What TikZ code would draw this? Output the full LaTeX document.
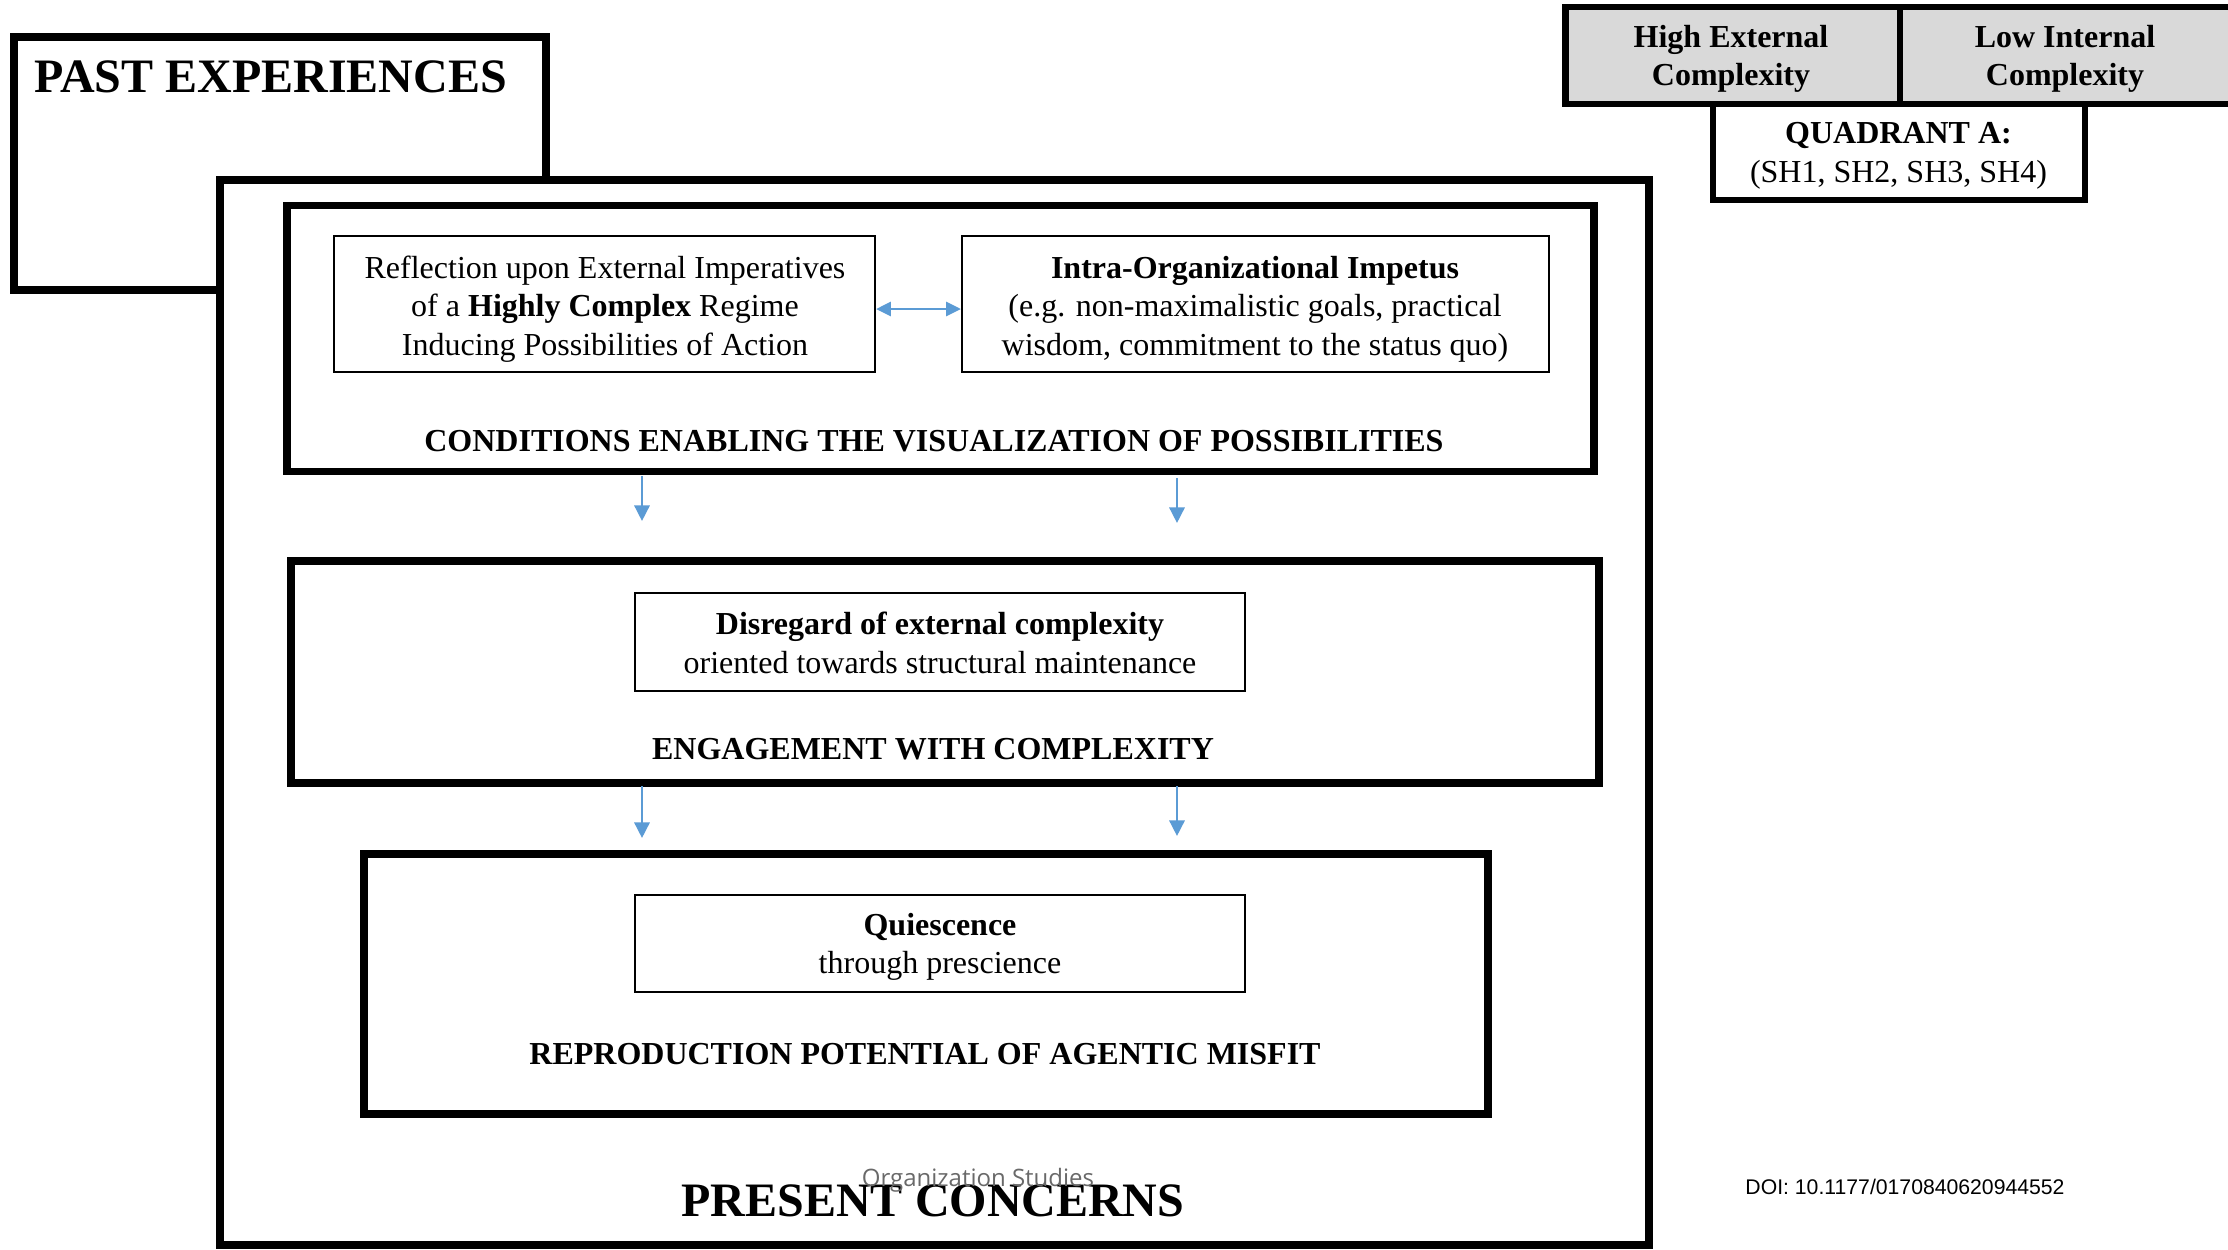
\documentclass[tikz,border=0pt]{standalone}
\usepackage{fontspec}
\setmainfont{Liberation Serif}
\newfontfamily\doifont{Liberation Sans}
\newfontfamily\journalfont{Open Sans}
\usetikzlibrary{arrows.meta}
\definecolor{linkblue}{RGB}{91,155,213}
\definecolor{panelgray}{RGB}{217,217,217}
\definecolor{marktext}{RGB}{105,105,105}

\begin{document}
\begin{tikzpicture}[x=0.5pt,y=-0.5pt,
  frame/.style={draw=black,line width=3.6pt,fill=white,inner sep=0pt},
  cell/.style={draw=black,line width=1.1pt,fill=white,inner sep=0pt},
  celltext/.style={inner sep=0pt,align=center,font=\fontsize{16}{19.2}\selectfont},
  header/.style={draw=black,line width=3.4pt,fill=panelgray,inner sep=0pt},
  caption/.style={inner sep=0pt,font=\fontsize{16}{19}\selectfont\bfseries},
  bigtitle/.style={inner sep=0pt,font=\fontsize{24}{28}\selectfont\bfseries},
  tip/.style={Triangle[length=7.8pt,width=7.6pt]},
  flow/.style={draw=linkblue,line width=1.3pt,-{Triangle[length=7.8pt,width=7.6pt]}},
  twoway/.style={draw=linkblue,line width=1.3pt,{Triangle[length=7.4pt,width=7pt]}-{Triangle[length=7.4pt,width=7pt]}}
]
\useasboundingbox (0,0) rectangle (2228,1249);
\fill[white] (0,0) rectangle (2228,1249);

% outer frames: past experiences behind, present concerns in front
\node[frame,minimum width=266pt,minimum height=126.5pt] (past) at (280,163.5) {};
\node[bigtitle,anchor=west] (pasttitle) at (34,77) {PAST EXPERIENCES};
\node[frame,minimum width=714.5pt,minimum height=532.5pt] (present) at (934.5,712.5) {};

% conditions enabling the visualization of possibilities
\node[frame,minimum width=653.5pt,minimum height=133pt] (cond) at (940.5,338.5) {};
\node[cell,minimum width=270.5pt,minimum height=68pt] (refl) at (604.5,304) {};
\node[celltext] (refltext) at (605,309)
  {Reflection upon External Imperatives\\of a \textbf{Highly Complex} Regime\\Inducing Possibilities of Action};
\node[cell,minimum width=293.5pt,minimum height=68pt] (intra) at (1255.5,304) {};
\node[celltext] (intratext) at (1255,309)
  {\textbf{Intra-Organizational Impetus}\\(e.g. non-maximalistic goals, practical\\wisdom, commitment to the status quo)};
\node[caption] (condlabel) at (934,441) {CONDITIONS ENABLING THE VISUALIZATION OF POSSIBILITIES};
\draw[twoway] (refl.east) ++(0,5) coordinate (dlink) -- (intra.west |- dlink);

% engagement with complexity
\node[frame,minimum width=654pt,minimum height=111pt] (engage) at (945,672) {};
\node[cell,minimum width=305pt,minimum height=49pt] (disregard) at (940,642) {};
\node[celltext] (disregardtext) at (940,643)
  {\textbf{Disregard of external complexity}\\oriented towards structural maintenance};
\node[caption] (engagelabel) at (933,749) {ENGAGEMENT WITH COMPLEXITY};

% reproduction potential of agentic misfit
\node[frame,minimum width=562pt,minimum height=130pt] (repro) at (926,984) {};
\node[cell,minimum width=305pt,minimum height=48.5pt] (quiet) at (940,943.5) {};
\node[celltext] (quiettext) at (940,947)
  {\textbf{Quiescence}\\through prescience};
\node[caption] (reprolabel) at (925,1054) {REPRODUCTION POTENTIAL OF AGENTIC MISFIT};

% downward links between the stages
\coordinate (a1s) at (642,476);  \coordinate (a1e) at (642,521);
\coordinate (a2s) at (1177,478); \coordinate (a2e) at (1177,523);
\coordinate (a3s) at (642,786);  \coordinate (a3e) at (642,838);
\coordinate (a4s) at (1177,786); \coordinate (a4e) at (1177,836);
\draw[flow] (a1s) -- (a1e);
\draw[flow] (a2s) -- (a2e);
\draw[flow] (a3s) -- (a3e);
\draw[flow] (a4s) -- (a4e);

\node[bigtitle] (presenttitle) at (933,1201) {PRESENT CONCERNS};
\node[inner sep=0pt,font=\journalfont\fontsize{12}{14}\selectfont,text=marktext] (journal) at (978,1180) {Organization Studies};

% quadrant key
\node[header,minimum width=167.5pt,minimum height=48.5pt] (highext) at (1733,55.5) {};
\node[celltext,font=\fontsize{16}{19.2}\selectfont\bfseries] (highexttext) at (1731,59) {High External\\Complexity};
\node[header,minimum width=168.5pt,minimum height=48.5pt] (lowint) at (2068.5,55.5) {};
\node[celltext,font=\fontsize{16}{19.2}\selectfont\bfseries] (lowinttext) at (2065,59) {Low Internal\\Complexity};
\node[frame,line width=3.4pt,minimum width=186pt,minimum height=48pt] (quad) at (1899,152) {};
\node[celltext] (quadtext) at (1898.5,156) {\textbf{QUADRANT A:}\\(SH1, SH2, SH3, SH4)};

\node[inner sep=0pt,font=\doifont\fontsize{10.6}{12}\selectfont] (doi) at (1905,1187) {DOI: 10.1177/0170840620944552};
\end{tikzpicture}
\end{document}
